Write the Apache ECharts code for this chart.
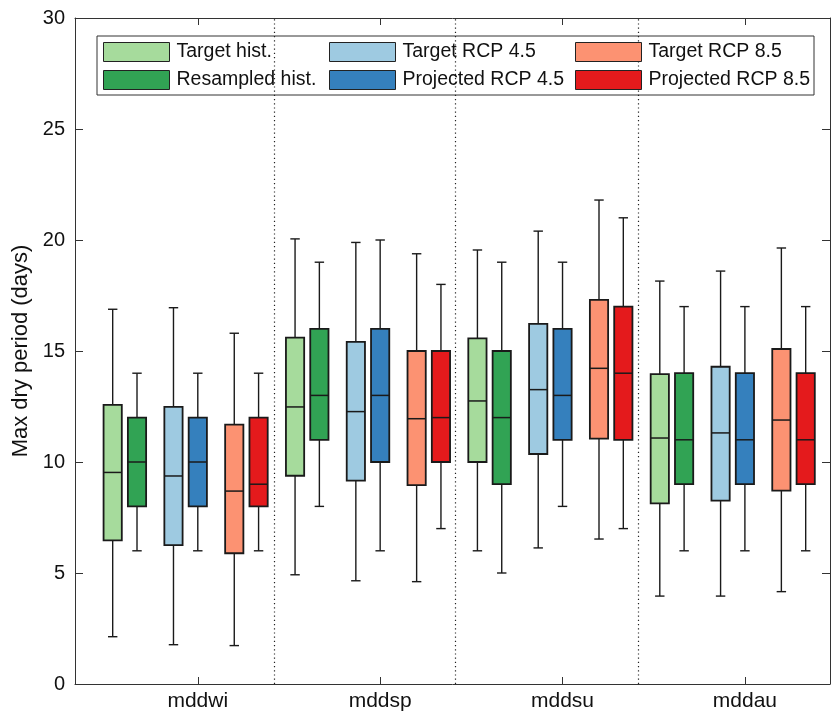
<!DOCTYPE html>
<html>
<head>
<meta charset="utf-8">
<script src="https://cdn.jsdelivr.net/npm/echarts@6/dist/echarts.min.js"></script>
<style>
html,body{margin:0;padding:0;background:#fff;}
#chart{width:831px;height:721px;}
</style>
</head>
<body>
<div id="chart"></div>
<script>
// ---- data ----
const categories = ['mddwi', 'mddsp', 'mddsu', 'mddau'];
const seriesNames = ['Target hist.', 'Resampled hist.', 'Target RCP 4.5', 'Projected RCP 4.5', 'Target RCP 8.5', 'Projected RCP 8.5'];
const seriesColors = ['#a6db9c', '#31a354', '#9ecae1', '#3580bd', '#fc9272', '#e41a1c'];
// each entry: [min, Q1, median, Q3, max] per category
const targetHist = [
  [2.13, 6.47, 9.53, 12.57, 16.88],
  [4.92, 9.38, 12.48, 15.6, 20.05],
  [6.0, 10.0, 12.75, 15.57, 19.55],
  [3.96, 8.14, 11.08, 13.96, 18.15]
];
const resampledHist = [
  [6, 8, 10, 12, 14],
  [8, 11, 13, 16, 19],
  [5, 9, 12, 15, 19],
  [6, 9, 11, 14, 17]
];
const targetRcp45 = [
  [1.77, 6.26, 9.37, 12.48, 16.95],
  [4.65, 9.16, 12.27, 15.41, 19.89],
  [6.13, 10.36, 13.26, 16.22, 20.4],
  [3.96, 8.26, 11.31, 14.29, 18.6]
];
const projectedRcp45 = [
  [6, 8, 10, 12, 14],
  [6, 10, 13, 16, 20],
  [8, 11, 13, 16, 19],
  [6, 9, 11, 14, 17]
];
const targetRcp85 = [
  [1.73, 5.89, 8.69, 11.68, 15.8],
  [4.61, 8.96, 11.95, 15.0, 19.38],
  [6.53, 11.05, 14.22, 17.3, 21.8],
  [4.16, 8.71, 11.89, 15.09, 19.64]
];
const projectedRcp85 = [
  [6, 8, 9, 12, 14],
  [7, 10, 12, 15, 18],
  [7, 11, 14, 17, 21],
  [6, 9, 11, 14, 17]
];
const yTicks = [0, 5, 10, 15, 20, 25, 30];

// ---- layout helpers ----
const allSeries = [targetHist, resampledHist, targetRcp45, projectedRcp45, targetRcp85, projectedRcp85];
const boxOffsets = [1, 1.4, 2, 2.4, 3, 3.4];
const groupStep = 3;
const tickOffset = 2.4;
const dividerOffset = 3.645;
const FONT = '"Liberation Sans", Arial, Helvetica, sans-serif';
const INK = '#111';

function renderBox(params, api) {
  const x = api.value(0);
  const pMin = api.coord([x, api.value(1)]);
  const pQ1 = api.coord([x, api.value(2)]);
  const pMed = api.coord([x, api.value(3)]);
  const pQ3 = api.coord([x, api.value(4)]);
  const pMax = api.coord([x, api.value(5)]);
  const half = api.size([0.3, 0])[0] / 2;
  const cap = api.size([0.155, 0])[0] / 2;
  const cx = pMed[0];
  const color = api.visual('color');
  const ls = {stroke: '#1a1a1a', lineWidth: 1.4};
  return {
    type: 'group',
    children: [
      {type: 'line', shape: {x1: cx, y1: pMax[1], x2: cx, y2: pQ3[1]}, style: ls},
      {type: 'line', shape: {x1: cx, y1: pQ1[1], x2: cx, y2: pMin[1]}, style: ls},
      {type: 'line', shape: {x1: cx - cap, y1: pMax[1], x2: cx + cap, y2: pMax[1]}, style: ls},
      {type: 'line', shape: {x1: cx - cap, y1: pMin[1], x2: cx + cap, y2: pMin[1]}, style: ls},
      {type: 'rect', shape: {x: cx - half, y: pQ3[1], width: half * 2, height: pQ1[1] - pQ3[1]},
        style: {fill: color, stroke: '#1a1a1a', lineWidth: 1.8}},
      {type: 'line', shape: {x1: cx - half, y1: pMed[1], x2: cx + half, y2: pMed[1]},
        style: {stroke: '#1a1a1a', lineWidth: 1.5}}
    ]
  };
}

const series = allSeries.map(function (vals, si) {
  return {
    name: seriesNames[si],
    type: 'custom',
    renderItem: renderBox,
    itemStyle: {color: seriesColors[si]},
    encode: {x: 0, y: [1, 2, 3, 4, 5]},
    data: vals.map(function (v, gi) { return [gi * groupStep + boxOffsets[si]].concat(v); }),
    z: 2
  };
});
series.push({
  type: 'line',
  data: [],
  silent: true,
  markLine: {
    silent: true,
    symbol: 'none',
    label: {show: false},
    lineStyle: {color: '#222', type: [1.2, 3], width: 1.2},
    data: [1, 2, 3].map(function (g) { return {xAxis: (g - 1) * groupStep + dividerOffset}; })
  },
  z: 1
});

const xTickVals = categories.map(function (c, i) { return i * groupStep + tickOffset; });

function legendCol(left, names) {
  return {
    orient: 'vertical',
    left: left,
    top: 42,
    itemWidth: 66,
    itemHeight: 19,
    itemGap: 8,
    icon: 'rect',
    selectedMode: false,
    padding: 0,
    z: 10,
    itemStyle: {borderColor: '#222', borderWidth: 1},
    textStyle: {fontFamily: FONT, fontSize: 19.5, color: INK, lineHeight: 19, padding: [0, 0, 0, 2]},
    data: names
  };
}

const axisLineStyle = {color: '#333', width: 1};
const option = {
  animation: false,
  backgroundColor: '#fff',
  grid: {left: 75, right: 1, top: 18, bottom: 37},
  xAxis: [{
    type: 'value', min: 0.38, max: 12.8, position: 'bottom',
    axisLine: {show: true, onZero: false, lineStyle: axisLineStyle},
    axisTick: {show: true, inside: true, length: 7, customValues: xTickVals, lineStyle: axisLineStyle},
    axisLabel: {show: true, customValues: xTickVals, margin: 7, fontFamily: FONT, fontSize: 21, color: INK,
      formatter: function (v) {
        const i = Math.round((v - tickOffset) / groupStep);
        return categories[i] || '';
      }},
    splitLine: {show: false}
  }, {
    type: 'value', min: 0.38, max: 12.8, position: 'top',
    axisLine: {show: true, onZero: false, lineStyle: axisLineStyle},
    axisTick: {show: true, inside: true, length: 7, customValues: xTickVals, lineStyle: axisLineStyle},
    axisLabel: {show: false},
    splitLine: {show: false}
  }],
  yAxis: [{
    type: 'value', min: 0, max: 30, interval: 5, position: 'left',
    name: 'Max dry period (days)', nameLocation: 'middle', nameGap: 43, nameRotate: 90,
    nameTextStyle: {fontFamily: FONT, fontSize: 22, color: INK},
    axisLine: {show: true, onZero: false, lineStyle: axisLineStyle},
    axisTick: {show: true, inside: true, length: 8, customValues: yTicks, lineStyle: axisLineStyle},
    axisLabel: {customValues: yTicks, margin: 10, fontFamily: FONT, fontSize: 20, color: INK},
    splitLine: {show: false}
  }, {
    type: 'value', min: 0, max: 30, interval: 5, position: 'right',
    axisLine: {show: true, onZero: false, lineStyle: axisLineStyle},
    axisTick: {show: true, inside: true, length: 8, customValues: yTicks, lineStyle: axisLineStyle},
    axisLabel: {show: false},
    splitLine: {show: false}
  }],
  legend: [
    legendCol(103, [seriesNames[0], seriesNames[1]]),
    legendCol(329, [seriesNames[2], seriesNames[3]]),
    legendCol(575, [seriesNames[4], seriesNames[5]])
  ],
  graphic: [{
    type: 'rect', z: 5, silent: true,
    shape: {x: 97, y: 36, width: 717, height: 59},
    style: {fill: '#fff', stroke: '#333', lineWidth: 1}
  }],
  series: series
};

const chart = echarts.init(document.getElementById('chart'), null, {renderer: 'canvas'});
chart.setOption(option);
</script>
</body>
</html>
